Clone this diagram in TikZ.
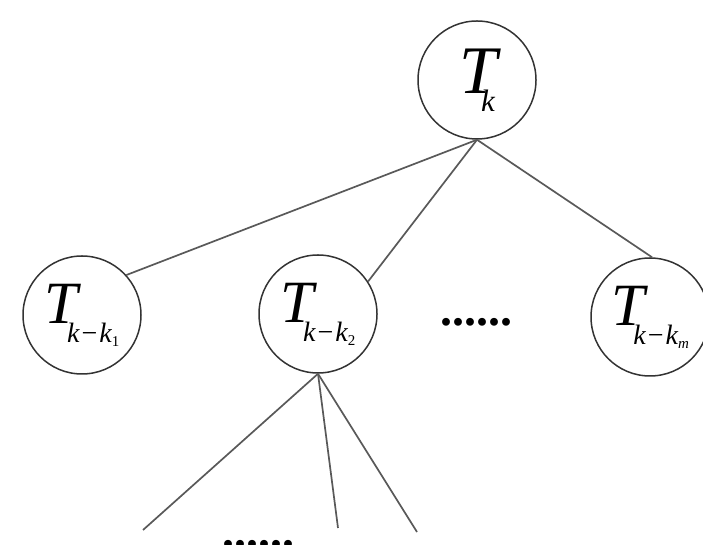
\documentclass[tikz,border=0pt]{standalone}
\usepackage{fontspec}
\setmainfont{Liberation Serif}
\newcommand{\bigT}[1]{{\fontsize{#1}{#1}\selectfont\itshape T}}
\newcommand{\subk}[1]{\raisebox{-19pt}{\fontsize{28}{28}\selectfont\itshape k\kern2pt\upshape −\kern2pt\itshape k\raisebox{-4pt}{\fontsize{15}{15}\selectfont #1}}}
\begin{document}
\begin{tikzpicture}[x=1pt,y=1pt,
  tnode/.style={circle, draw=black!80, line width=1.5pt, minimum size=118pt, inner sep=0pt},
  edge/.style={draw=black!65, line width=1.7pt},
  dotsstyle/.style={inner sep=0pt, anchor=base, font=\fontsize{48}{48}\selectfont\bfseries}]
\useasboundingbox (0,0) rectangle (703,545);
\node[tnode] (top) at (477,465) {\bigT{68}\kern-16pt\raisebox{-18pt}{\fontsize{31}{31}\selectfont\itshape k}};
\node[tnode] (n1) at (82,230) {\bigT{60}\kern-11pt\subk{\upshape 1}};
\node[tnode] (n2) at (318,231) {\bigT{60}\kern-11pt\subk{\upshape 2}};
\node[tnode] (nm) at (650,228) {\bigT{60}\kern-11pt\subk{\itshape m}};
\node[dotsstyle] (d1) at (476,219) {......};
\node[dotsstyle] (d2) at (258,-3) {......};
\coordinate (b1) at (143,15);
\coordinate (b2) at (338,17);
\coordinate (b3) at (417,13);
\draw[edge] (top.south) -- (n1.42);
\draw[edge] (top.south) -- (n2.33);
\draw[edge] (top.south) -- (nm.88);
\draw[edge] (n2.south) -- (b1);
\draw[edge] (n2.south) -- (b2);
\draw[edge] (n2.south) -- (b3);
\end{tikzpicture}
\end{document}
